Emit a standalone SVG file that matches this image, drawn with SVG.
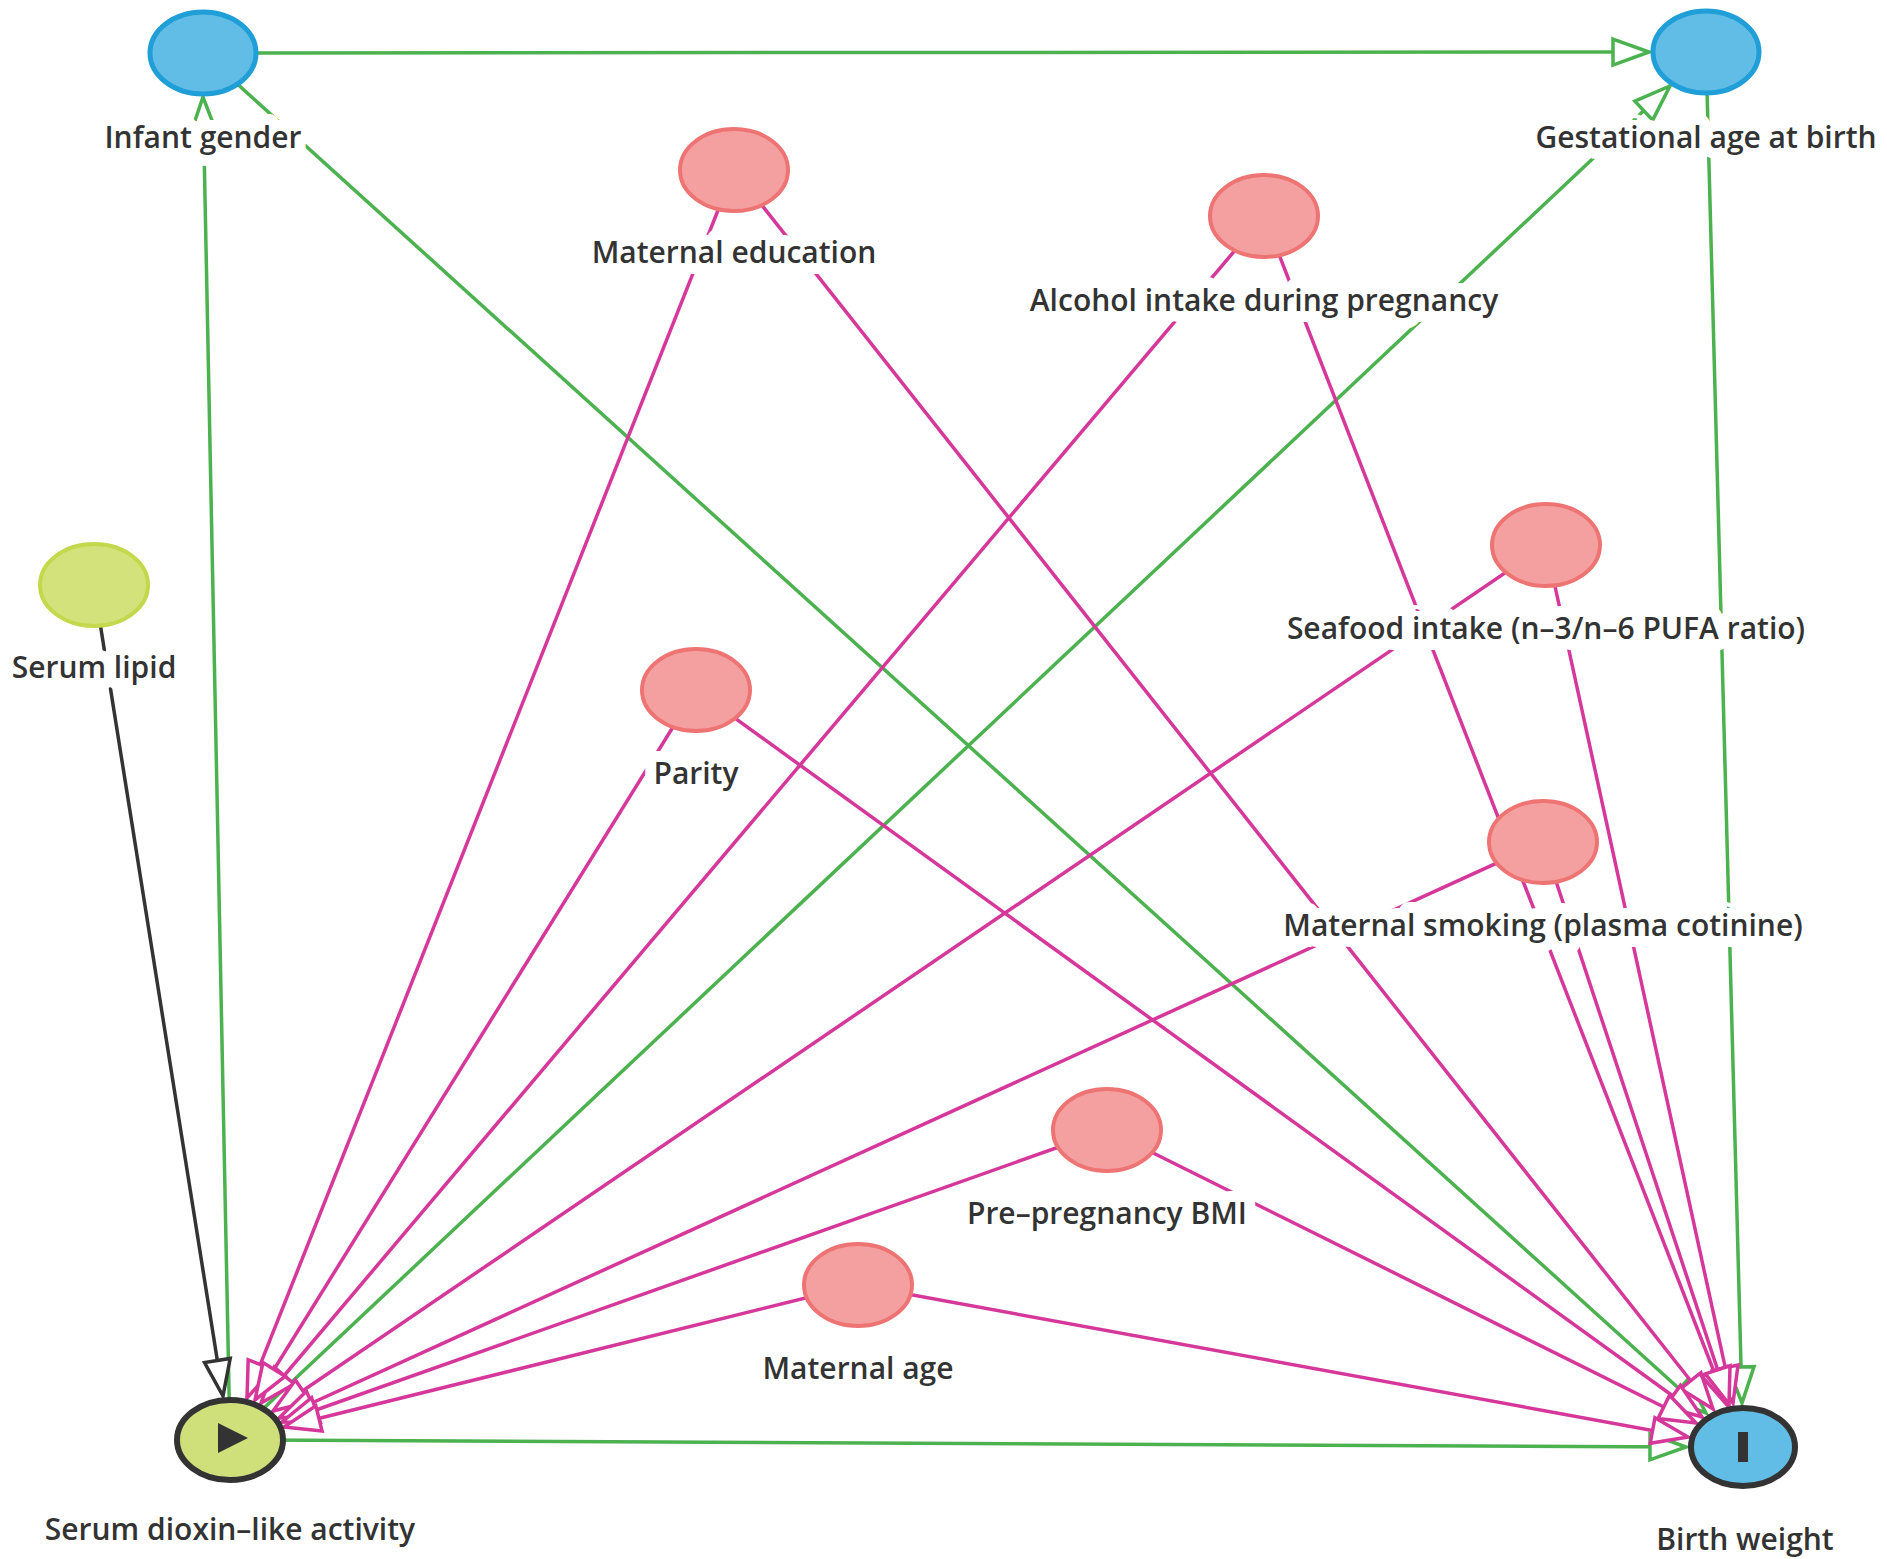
<svg xmlns="http://www.w3.org/2000/svg" width="1887" height="1559" viewBox="0 0 1887 1559">
<style>
.g{stroke:#4cb14f;stroke-width:3.5;fill:none}
.p{stroke:#d5389a;stroke-width:3.5;fill:none}
.k{stroke:#333;stroke-width:3.5;fill:none}
.lbl{font-family:"Open Sans","DejaVu Sans",sans-serif;font-weight:600;font-size:30px;fill:#333;text-anchor:middle;stroke:#fff;stroke-width:22;stroke-linejoin:round;paint-order:stroke}
.conf{fill:#f5a0a0;stroke:#ee7474;stroke-width:4}
.blue{fill:#62bde6;stroke:#1f9ed8;stroke-width:5}
</style>
<defs>
<marker id="ag" markerUnits="userSpaceOnUse" markerWidth="44" markerHeight="44" viewBox="0 0 44 44" refX="40" refY="22" orient="auto"><path d="M4,9 L40,22 L4,35 Z" fill="#fff" stroke="#4cb14f" stroke-width="3.5"/></marker>
<marker id="ap" markerUnits="userSpaceOnUse" markerWidth="44" markerHeight="44" viewBox="0 0 44 44" refX="40" refY="22" orient="auto"><path d="M4,9 L40,22 L4,35 Z" fill="#fff" stroke="#d5389a" stroke-width="3.5"/></marker>
<marker id="ak" markerUnits="userSpaceOnUse" markerWidth="44" markerHeight="44" viewBox="0 0 44 44" refX="40" refY="22" orient="auto"><path d="M4,9 L40,22 L4,35 Z" fill="#fff" stroke="#333" stroke-width="3.5"/></marker>
</defs>
<rect width="1887" height="1559" fill="#fff"/>
<g id="connectors">
<line class="g" x1="203" y1="53" x2="1649" y2="52" marker-end="url(#ag)"/>
<line class="g" x1="230" y1="1440" x2="203" y2="97" marker-end="url(#ag)"/>
<line class="g" x1="203" y1="53" x2="1706" y2="1413" marker-end="url(#ag)"/>
<line class="g" x1="230" y1="1440" x2="1670" y2="86" marker-end="url(#ag)"/>
<line class="g" x1="1706" y1="52" x2="1742" y2="1403" marker-end="url(#ag)"/>
<line class="g" x1="230" y1="1440" x2="1686" y2="1447" marker-end="url(#ag)"/>
<line class="k" x1="94" y1="585" x2="223" y2="1396" marker-end="url(#ak)"/>
<line class="p" x1="734" y1="170" x2="247" y2="1398" marker-end="url(#ap)"/>
<line class="p" x1="1264" y1="216" x2="261" y2="1403" marker-end="url(#ap)"/>
<line class="p" x1="1546" y1="545" x2="273" y2="1411" marker-end="url(#ap)"/>
<line class="p" x1="696" y1="690" x2="255" y2="1400" marker-end="url(#ap)"/>
<line class="p" x1="1543" y1="842" x2="279" y2="1418" marker-end="url(#ap)"/>
<line class="p" x1="1107" y1="1130" x2="282" y2="1422" marker-end="url(#ap)"/>
<line class="p" x1="858" y1="1285" x2="284" y2="1427" marker-end="url(#ap)"/>
<line class="p" x1="734" y1="170" x2="1713" y2="1409" marker-end="url(#ap)"/>
<line class="p" x1="1264" y1="216" x2="1727" y2="1405" marker-end="url(#ap)"/>
<line class="p" x1="1546" y1="545" x2="1733" y2="1403" marker-end="url(#ap)"/>
<line class="p" x1="696" y1="690" x2="1702" y2="1417" marker-end="url(#ap)"/>
<line class="p" x1="1543" y1="842" x2="1729" y2="1404" marker-end="url(#ap)"/>
<line class="p" x1="1107" y1="1130" x2="1696" y2="1423" marker-end="url(#ap)"/>
<line class="p" x1="858" y1="1285" x2="1688" y2="1437" marker-end="url(#ap)"/>
</g>
<g id="infant-gender"><ellipse class="blue" cx="203" cy="53" rx="53" ry="41"/><text class="lbl" x="203" y="148">Infant gender</text></g>
<g id="gestational-age"><ellipse class="blue" cx="1706" cy="52" rx="53" ry="41"/><text class="lbl" x="1706" y="148">Gestational age at birth</text></g>
<g id="maternal-education"><ellipse class="conf" cx="734" cy="170" rx="54" ry="41"/><text class="lbl" x="734" y="263">Maternal education</text></g>
<g id="alcohol"><ellipse class="conf" cx="1264" cy="216" rx="54" ry="41"/><text class="lbl" x="1264" y="311">Alcohol intake during pregnancy</text></g>
<g id="serum-lipid"><ellipse cx="94" cy="585" rx="54" ry="41" fill="#d4e27c" stroke="#c3d84a" stroke-width="4"/><text class="lbl" x="94" y="678">Serum lipid</text></g>
<g id="seafood"><ellipse class="conf" cx="1546" cy="545" rx="54" ry="41"/><text class="lbl" x="1546" y="639">Seafood intake (n–3/n–6 PUFA ratio)</text></g>
<g id="parity"><ellipse class="conf" cx="696" cy="690" rx="54" ry="41"/><text class="lbl" x="696" y="784">Parity</text></g>
<g id="smoking"><ellipse class="conf" cx="1543" cy="842" rx="54" ry="41"/><text class="lbl" x="1543" y="936">Maternal smoking (plasma cotinine)</text></g>
<g id="bmi"><ellipse class="conf" cx="1107" cy="1130" rx="54" ry="41"/><text class="lbl" x="1107" y="1224">Pre–pregnancy BMI</text></g>
<g id="maternal-age"><ellipse class="conf" cx="858" cy="1285" rx="54" ry="41"/><text class="lbl" x="858" y="1379">Maternal age</text></g>
<g id="serum-dioxin"><ellipse cx="230" cy="1440" rx="53" ry="40" fill="#cfe07a" stroke="#333" stroke-width="6"/><path d="M218,1423 L248,1438 L218,1453 Z" fill="#333"/><text class="lbl" x="230" y="1540">Serum dioxin–like activity</text></g>
<g id="birth-weight"><ellipse cx="1743" cy="1447" rx="52" ry="39" fill="#62bde6" stroke="#333" stroke-width="6"/><rect x="1738" y="1432" width="10" height="30" fill="#333"/><text class="lbl" x="1745" y="1550">Birth weight</text></g>
</svg>
